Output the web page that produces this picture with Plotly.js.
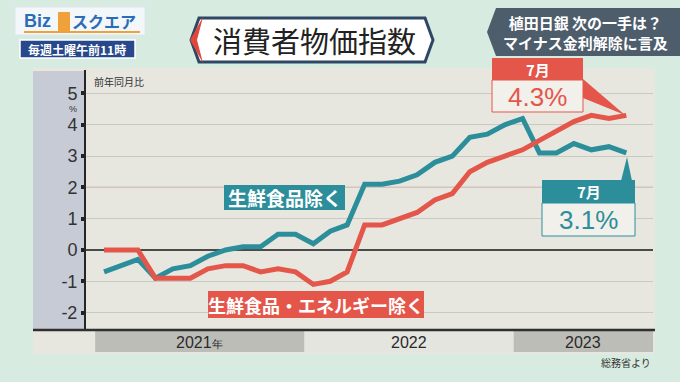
<!DOCTYPE html>
<html><head><meta charset="utf-8">
<script src="https://cdn.plot.ly/plotly-3.0.1.min.js"></script>
<style>html,body{margin:0;padding:0;background:#d8ebe1;}#chart{width:680px;height:382px;}</style>
</head><body><div id="chart"></div>
<script>
// ---- data ----
const months = ['2021-01','2021-02','2021-03','2021-04','2021-05','2021-06','2021-07','2021-08','2021-09','2021-10','2021-11','2021-12',
  '2022-01','2022-02','2022-03','2022-04','2022-05','2022-06','2022-07','2022-08','2022-09','2022-10','2022-11','2022-12',
  '2023-01','2023-02','2023-03','2023-04','2023-05','2023-06','2023-07'];
const exFresh = [-0.7,-0.5,-0.3,-0.9,-0.6,-0.5,-0.2,0.0,0.1,0.1,0.5,0.5,
  0.2,0.6,0.8,2.1,2.1,2.2,2.4,2.8,3.0,3.6,3.7,4.0,
  4.2,3.1,3.1,3.4,3.2,3.3,3.1];
const exFreshEnergy = [0.0,0.0,0.0,-0.9,-0.9,-0.9,-0.6,-0.5,-0.5,-0.7,-0.6,-0.7,
  -1.1,-1.0,-0.7,0.8,0.8,1.0,1.2,1.6,1.8,2.5,2.8,3.0,
  3.2,3.5,3.8,4.1,4.3,4.2,4.3];
const seriesNames = ['生鮮食品除く','生鮮食品・エネルギー除く'];
const yTicks = [-2,-1,0,1,2,3,4,5];
const yTickText = ['-2','-1','0','1','2','3','4','5'];
const yearLabels = ['2021<span style="font-size:11px">年</span>','2022','2023'];
const yearStart = ['2021-01-01','2022-01-01','2023-01-01'];
const yearEnd = ['2022-01-01','2023-01-01','2023-09-01'];
const lastLabel = ['7月','7月'];
const lastValueText = ['3.1%','4.3%'];

// ---- styling ----
const TEAL = '#2c8e9b', RED = '#e5564a';
const JP = '"Noto Sans CJK JP", "Noto Sans", sans-serif';
const NUM = '"Liberation Sans", Arial, sans-serif';
const L = 86, R = 653, T = 70, B = 330;
const px = X => (X - L) / (R - L);
const py = Y => (B - Y) / (B - T);
function rectP(x0, y0, x1, y1, fill, extra) {
  return Object.assign({type:'rect', xref:'paper', yref:'paper', x0:px(x0), x1:px(x1), y0:py(y1), y1:py(y0),
    fillcolor:fill, line:{width:0}, layer:'below'}, extra || {});
}
function pathP(pts, fill, extra) {
  const d = 'M' + pts.map(p => px(p[0]) + ',' + py(p[1])).join(' L') + ' Z';
  return Object.assign({type:'path', xref:'paper', yref:'paper', path:d, fillcolor:fill, line:{width:0}, layer:'below'}, extra || {});
}
function annP(X, Y, text, font, extra) {
  return Object.assign({xref:'paper', yref:'paper', x:px(X), y:py(Y), text:text, showarrow:false,
    xanchor:'center', yanchor:'middle', font:font}, extra || {});
}
function midDate(a, b) {
  const t = (new Date(a).getTime() + new Date(b).getTime()) / 2;
  return new Date(t).toISOString().slice(0, 10);
}

const traces = [
  {x: months, y: exFresh, name: seriesNames[0], type:'scatter', mode:'lines', xperiod:'M1', xperiodalignment:'middle',
   line:{color:TEAL, width:5}, hoverinfo:'skip'},
  {x: months, y: exFreshEnergy, name: seriesNames[1], type:'scatter', mode:'lines', xperiod:'M1', xperiodalignment:'middle',
   line:{color:RED, width:5}, hoverinfo:'skip'}
];

const shapes = [
  rectP(33, 68, 655, 354, '#e7e7e0'),
  rectP(33, 71, 86, 330, '#c7cbd5'),
  // title box
  pathP([[199,18],[425,18],[433,40],[425,62],[199,62],[191,40]], '#ffffff', {line:{color:'#2e4765', width:3}}),
  pathP([[203,17],[190,40],[203,63],[197,40]], '#e0463c'),
  // logo
  rectP(15, 7, 145, 35, '#f4f7fa', {line:{color:'#dfe6ee', width:1}}),
  rectP(24, 31, 140, 33, '#f0a23a'),
  rectP(58, 12, 70, 31, '#f0a23a'),
  rectP(20, 40, 135, 58, '#27498c', {line:{color:'#ffffff', width:1.5}}),
  // top right box
  pathP([[496,8],[680,8],[680,56],[496,56],[487,32]], '#4d5d6b'),
  // red callout
  pathP([[583,79],[583,98],[625,115]], RED, {layer:'above'}),
  rectP(492, 58, 583, 80, RED, {layer:'above'}),
  rectP(492, 80, 583, 112, '#f1f0ea', {layer:'above', line:{color:RED, width:1}}),
  // teal callout
  pathP([[621,181],[632,181],[627,157]], TEAL, {layer:'above'}),
  rectP(542, 180, 635, 203, TEAL, {layer:'above'}),
  rectP(542, 203, 635, 236, '#f1f0ea', {layer:'above', line:{color:TEAL, width:1}}),
  // series labels
  rectP(224, 185, 345, 210, TEAL, {layer:'above'}),
  rectP(208, 291, 424, 318, RED, {layer:'above'}),
  // 2% reference line
  {type:'line', xref:'paper', yref:'y', x0:0, x1:1, y0:2, y1:2, line:{color:'#e08a86', width:1.2}, layer:'between'},
  // bottom axis line
  {type:'line', xref:'paper', yref:'paper', x0:px(33), x1:px(655), y0:0, y1:0, line:{color:'#2f2f2f', width:2.5}, layer:'above'}
];
// year bands
const bandColors = ['#bdbdb8', '#e5e5df', '#bdbdb8'];
yearStart.forEach((s, i) => {
  shapes.push({type:'rect', xref:'x', yref:'paper', x0:s, x1:yearEnd[i], y0:py(352), y1:py(331),
    fillcolor:bandColors[i], line:{width:0}, layer:'below'});
});

const annotations = [
  annP(314, 40, '消費者物価指数', {family:JP, size:29, color:'#222'}),
  annP(37, 21, '<b>Biz</b>', {family:NUM, size:18, color:'#2a6cb8'}),
  annP(104, 21, '<b>スクエア</b>', {family:JP, size:16, color:'#2a6cb8'}),
  annP(77, 49, '<b>毎週土曜午前11時</b>', {family:JP, size:12, color:'#ffffff'}),
  annP(585, 32, '<b>植田日銀 次の一手は？<br>マイナス金利解除に言及</b>', {family:JP, size:15, color:'#ffffff'}),
  annP(92, 82, '前年同月比', {family:JP, size:10, color:'#333'}, {xanchor:'left'}),
  annP(73, 108.5, '%', {family:NUM, size:9, color:'#333'}, {borderpad:0}),
  annP(284.5, 197.5, '<b>' + seriesNames[0] + '</b>', {family:JP, size:19, color:'#ffffff'}),
  annP(316, 304.5, '<b>' + seriesNames[1] + '</b>', {family:JP, size:18, color:'#ffffff'}),
  annP(537.5, 69, '<b>' + lastLabel[1] + '</b>', {family:JP, size:15, color:'#ffffff'}),
  annP(537.5, 97, lastValueText[1], {family:NUM, size:26, color:RED}),
  annP(588.5, 191.5, '<b>' + lastLabel[0] + '</b>', {family:JP, size:15, color:'#ffffff'}),
  annP(588.5, 220, lastValueText[0], {family:NUM, size:26, color:TEAL}),
  annP(626, 362, '総務省より', {family:JP, size:10, color:'#333'})
];
yearLabels.forEach((t, i) => {
  annotations.push({xref:'x', yref:'paper', x:midDate(yearStart[i], yearEnd[i]), y:py(342), text:t, showarrow:false,
    xanchor:'center', yanchor:'middle', font:{family:NUM, size:16, color:'#2a2a2a'}});
});

const layout = {
  width:680, height:382,
  margin:{l:L, r:680-R, t:T, b:382-B, pad:0},
  paper_bgcolor:'#d8ebe1', plot_bgcolor:'rgba(0,0,0,0)',
  showlegend:false,
  xaxis:{type:'date', range:['2020-12-16','2023-09-01'], showticklabels:false, showgrid:false, zeroline:false,
    showline:false, ticks:'', fixedrange:true},
  yaxis:{range:[-2.556, 5.75], tickvals:yTicks, ticktext:yTickText, showgrid:true, gridcolor:'#c9c9c1', gridwidth:1,
    zeroline:true, zerolinecolor:'#4a4a4a', zerolinewidth:1.5, showline:true, linecolor:'#262626', linewidth:2,
    ticks:'outside', ticklen:3, tickwidth:4, tickcolor:'#222',
    tickfont:{family:NUM, size:18, color:'#333'}, fixedrange:true},
  shapes:shapes, annotations:annotations
};
Plotly.newPlot('chart', traces, layout, {displayModeBar:false, staticPlot:true});
</script></body></html>
